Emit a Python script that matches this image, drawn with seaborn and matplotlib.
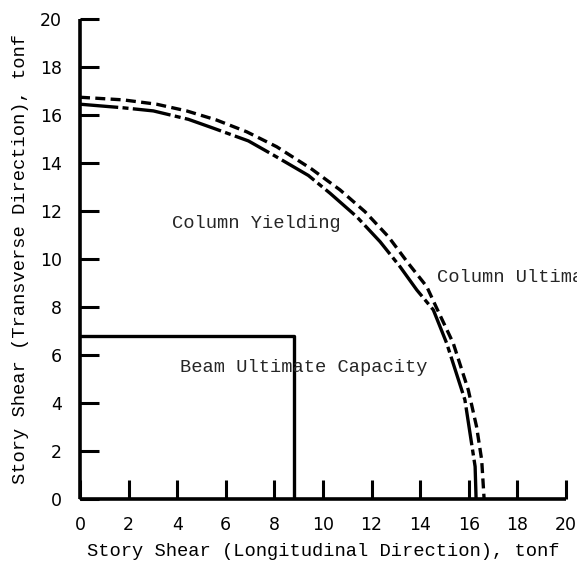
import matplotlib
matplotlib.use("Agg")
import matplotlib.pyplot as plt
import seaborn as sns
import pandas as pd

# Column yielding interaction curve (dash-dot)
yield_x = [0.0, 1.78, 3.02, 4.46, 5.49, 6.93, 7.96, 9.40, 10.29, 11.39, 12.35,
           13.17, 13.86, 14.54, 15.09, 15.84, 16.05, 16.26, 16.30]
yield_y = [16.45, 16.30, 16.17, 15.82, 15.45, 14.92, 14.33, 13.48, 12.74, 11.76,
           10.72, 9.68, 8.71, 7.88, 6.49, 4.13, 2.74, 1.35, 0.0]

# Column ultimate interaction curve (dashed)
ult_x = [0.0, 1.78, 3.15, 4.39, 5.62, 6.86, 8.09, 9.53, 10.70, 11.73, 12.69,
         13.51, 14.27, 14.68, 15.36, 15.98, 16.32, 16.53, 16.63]
ult_y = [16.74, 16.63, 16.45, 16.17, 15.79, 15.30, 14.68, 13.75, 12.88, 11.97,
         10.93, 9.82, 8.85, 7.95, 6.49, 4.54, 3.01, 1.63, 0.0]

# Beam ultimate capacity (rectangle)
beam_x = [0.0, 8.8, 8.8]
beam_y = [6.8, 6.8, 0.0]

x_ticks = [0, 2, 4, 6, 8, 10, 12, 14, 16, 18, 20]
y_ticks = [0, 2, 4, 6, 8, 10, 12, 14, 16, 18, 20]

sns.set_style("ticks")
plt.rcParams['font.family'] = ['DejaVu Sans']

df = pd.concat([
    pd.DataFrame({"x": yield_x, "y": yield_y, "curve": "Column Yielding"}),
    pd.DataFrame({"x": ult_x, "y": ult_y, "curve": "Column Ultimate"}),
    pd.DataFrame({"x": beam_x, "y": beam_y, "curve": "Beam Ultimate"}),
])

fig = plt.figure(figsize=(5.77, 5.69), dpi=100)
ax = fig.add_axes([80/577, 70/569, 486/577, 480/569])

sns.lineplot(data=df, x="x", y="y", hue="curve", style="curve", sort=False,
             estimator=None, ax=ax, legend=False, linewidth=2.4,
             palette={"Column Yielding": "black", "Column Ultimate": "black",
                      "Beam Ultimate": "black"},
             dashes={"Column Yielding": (11.5, 1.3, 1.8, 1.3),
                     "Column Ultimate": (3.0, 1.6),
                     "Beam Ultimate": ""})

ax.set_xlim(0, 20)
ax.set_ylim(0, 20)
ax.set_xticks(x_ticks)
ax.set_yticks(y_ticks)
ax.set_xticklabels([str(t) for t in x_ticks])
ax.set_yticklabels([str(t) for t in y_ticks])

for s in ["top", "right"]:
    ax.spines[s].set_visible(False)
for s in ["left", "bottom"]:
    ax.spines[s].set_linewidth(2.6)
    ax.spines[s].set_color("black")
    ax.spines[s].set_capstyle("butt")

ax.tick_params(axis="both", which="major", bottom=True, left=True,
               direction="in", length=14, width=2.2, color="black",
               labelsize=12.5, labelcolor="black")
ax.tick_params(axis="x", pad=12)
ax.tick_params(axis="y", pad=13)

mono = "Liberation Mono"
ax.set_xlabel("Story Shear (Longitudinal Direction), tonf", family=mono,
              fontsize=13.5, labelpad=7, color="black")
ax.set_ylabel("Story Shear (Transverse Direction), tonf", family=mono,
              fontsize=13.5, labelpad=8, color="black")

ax.text(3.8, 11.5, "Column Yielding", family=mono, fontsize=13.5, va="center")
ax.text(14.7, 9.25, "Column Ultimate", family=mono, fontsize=13.5, va="center",
        clip_on=False)
ax.text(4.1, 5.5, "Beam Ultimate Capacity", family=mono, fontsize=13.5, va="center")

fig.savefig("out.png", dpi=100)
